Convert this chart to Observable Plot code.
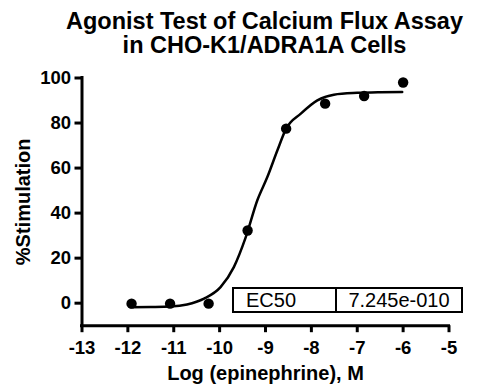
<!DOCTYPE html>
<html>
<head>
<meta charset="utf-8">
<script src="https://cdn.jsdelivr.net/npm/d3@7"></script>
<script src="https://cdn.jsdelivr.net/npm/@observablehq/plot@0.6"></script>
<style>
  html, body { margin: 0; padding: 0; background: #fff; }
  #wrap { position: relative; width: 482px; height: 390px; font-family: "Liberation Sans", Arial, sans-serif; }
  #title { height: 65px; text-align: center; font-weight: bold; font-size: 23.5px; line-height: 23.5px; color: #000; padding-left: 47px; box-sizing: border-box; padding-top: 10px; white-space: nowrap; }
  #ec50 { position: absolute; left: 232px; top: 287px; width: 231px; height: 26px; border: 2px solid #000; box-sizing: border-box; display: flex; font-size: 20px; color: #000; }
  #ec50 .c1 { width: 103px; border-right: 2px solid #000; display: flex; align-items: center; padding-left: 12px; box-sizing: border-box; }
  #ec50 .c2 { flex: 1; display: flex; align-items: center; justify-content: center; }
  svg { display: block; }
</style>
</head>
<body>
<div id="wrap">
  <div id="title"></div>
  <div id="chart"></div>
  <div id="ec50"><div class="c1"></div><div class="c2"></div></div>
</div>
<script>
const titleLines = ["Agonist Test of Calcium Flux Assay", "in CHO-K1/ADRA1A Cells"];
const xLabel = "Log (epinephrine), M";
const yLabel = "%Stimulation";
const xTicks = [-13, -12, -11, -10, -9, -8, -7, -6, -5];
const yTicks = [0, 20, 40, 60, 80, 100];
const tableLabels = ["EC50", "7.245e-010"];

// measured points
const logConc = [-11.92, -11.08, -10.24, -9.39, -8.55, -7.70, -6.85, -6.00];
const stimulation = [-0.2, -0.2, -0.2, 32.3, 77.5, 88.6, 92.0, 98.0];

// fitted curve
const fitLogConc = [-11.94, -11.5, -11.07, -10.71, -10.34, -9.98, -9.69, -9.43, -9.18, -8.96, -8.74, -8.55, -8.23, -7.87, -7.51, -7.0, -6.5, -6.02];
const fitStim = [-1.8, -1.7, -1.5, -0.6, 2.0, 7.1, 16.0, 29.3, 45.6, 56.0, 67.9, 77.5, 84.2, 90.1, 92.6, 93.4, 93.7, 93.8];

document.getElementById("title").innerHTML = titleLines.join("<br>");
document.querySelector("#ec50 .c1").textContent = tableLabels[0];
document.querySelector("#ec50 .c2").textContent = tableLabels[1];

const points = logConc.map((x, i) => ({x, y: stimulation[i]}));
const fit = fitLogConc.map((x, i) => ({x, y: fitStim[i]}));

const chart = Plot.plot({
  width: 482,
  height: 325,
  marginLeft: 81.5,
  marginRight: 33.5,
  marginTop: 12.5,
  marginBottom: 64.8,
  style: {fontFamily: "'Liberation Sans', Arial, sans-serif", fontSize: "18.5px", fontWeight: "bold", color: "#000", background: "#fff"},
  x: {domain: [-13, -5]},
  y: {domain: [-10, 100]},
  marks: [
    Plot.axisX({ticks: xTicks, tickSize: 7, tickPadding: 8, strokeWidth: 3, label: null, tickFormat: d => String(d)}),
    Plot.axisY({ticks: yTicks, tickSize: 7, tickPadding: 4, strokeWidth: 3, label: null}),
    Plot.ruleX([xTicks[0]], {y1: -10, y2: 100, strokeWidth: 3, strokeLinecap: "square"}),
    Plot.ruleY([-10], {x1: xTicks[0], x2: xTicks[xTicks.length - 1], strokeWidth: 3, strokeLinecap: "square"}),
    Plot.line(fit, {x: "x", y: "y", curve: "monotone-x", strokeWidth: 2.5, stroke: "#000"}),
    Plot.dot(points, {x: "x", y: "y", r: 5.2, fill: "#000", stroke: null}),
    Plot.text([xLabel], {text: d => d, frameAnchor: "bottom", lineAnchor: "middle", dy: 48, fontSize: 20, fontWeight: "bold"}),
    Plot.text([yLabel], {text: d => d, frameAnchor: "left", textAnchor: "middle", lineAnchor: "middle", rotate: -90, dx: -58, fontSize: 20, fontWeight: "bold"})
  ]
});
document.getElementById("chart").appendChild(chart);
</script>
</body>
</html>
